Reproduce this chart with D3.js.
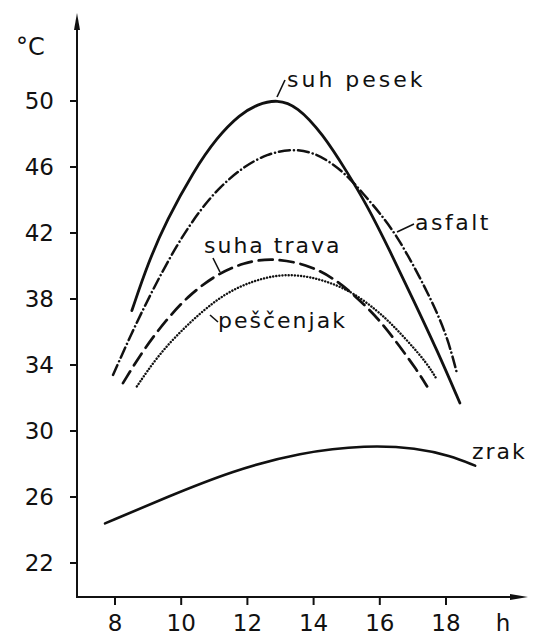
<!DOCTYPE html>
<html><head><meta charset="utf-8">
<script src="https://cdn.jsdelivr.net/npm/d3@7"></script>
<style>body{margin:0;background:#fff}svg{display:block}text{font-family:"DejaVu Sans",sans-serif;fill:#111}</style>
</head><body><svg id="c" width="536" height="637"></svg>
<script>
const yTicks=[22,26,30,34,38,42,46,50];
const xTicks=[8,10,12,14,16,18];
const suhPesekH=[8.51,9.0,9.57,10.36,11.08,11.78,12.3,12.9,13.5,14.28,15.01,15.61,16.31,17.0,17.73,18.42];
const suhPesekT=[37.3,40.2,42.8,45.7,47.8,49.2,49.8,50.1,49.7,48.0,45.7,43.7,40.9,38.0,34.9,31.7];
const asfaltH=[7.94,8.54,9.15,9.87,10.57,11.17,11.87,12.59,13.35,13.98,14.59,15.1,15.49,16.01,16.52,17.0,17.52,18.03,18.33];
const asfaltT=[33.4,36.1,38.6,41.3,43.4,44.8,46.0,46.8,47.1,46.9,46.2,45.3,44.4,43.2,41.8,40.1,38.1,35.8,33.5];
const travaH=[8.24,8.85,9.57,10.27,11.08,11.87,12.74,13.8,14.59,15.31,16.01,16.61,17.12,17.43];
const travaT=[32.9,34.9,36.8,38.3,39.5,40.2,40.5,40.1,39.3,38.1,36.7,35.1,33.7,32.7];
const pescH=[8.66,9.27,9.96,10.66,11.38,12.17,12.98,13.8,14.5,15.19,15.92,16.4,16.91,17.43,17.73];
const pescT=[32.7,34.5,36.0,37.3,38.4,39.1,39.5,39.4,39.0,38.4,37.3,36.4,35.3,34.1,33.1];
const zrakH=[7.7,9.57,11.56,13.59,15.61,17.12,18.12,18.88];
const zrakT=[24.4,26.0,27.6,28.7,29.15,28.97,28.5,27.9];

const svg=d3.select("#c");
const x=d3.scaleLinear().domain([8,18]).range([115,446]);
const y=d3.scaleLinear().domain([22,50]).range([563,101]);
const axX=77, axY=597;
const ink="#111";

// axes
svg.append("line").attr("x1",axX).attr("x2",axX).attr("y1",28).attr("y2",axY).attr("stroke",ink).attr("stroke-width",2);
svg.append("path").attr("d",`M${axX-3},30 L${axX},13 L${axX+3},30 Z`).attr("fill",ink);
svg.append("line").attr("x1",axX-1).attr("x2",512).attr("y1",axY).attr("y2",axY).attr("stroke",ink).attr("stroke-width",2);
svg.append("path").attr("d",`M510,${axY-3} L528,${axY} L510,${axY+3} Z`).attr("fill",ink);

yTicks.forEach(t=>{
  svg.append("line").attr("x1",axX-7).attr("x2",axX).attr("y1",y(t)).attr("y2",y(t)).attr("stroke",ink).attr("stroke-width",2);
  svg.append("text").attr("x",54).attr("y",y(t)).attr("dy","0.36em").attr("text-anchor","end").attr("font-size",23).text(t);
});
xTicks.forEach(t=>{
  svg.append("line").attr("x1",x(t)).attr("x2",x(t)).attr("y1",axY).attr("y2",axY+8).attr("stroke",ink).attr("stroke-width",2);
  svg.append("text").attr("x",x(t)).attr("y",631).attr("text-anchor","middle").attr("font-size",23).text(t);
});
svg.append("text").attr("x",503).attr("y",631).attr("text-anchor","middle").attr("font-size",23).text("h");
svg.append("text").attr("x",16).attr("y",55).attr("font-size",24).text("°C");

const line=d3.line().x(d=>x(d[0])).y(d=>y(d[1])).curve(d3.curveBasis);
function series(H,T,w,dash){
  const p=svg.append("path").datum(d3.zip(H,T)).attr("d",line).attr("fill","none").attr("stroke",ink).attr("stroke-width",w).attr("stroke-linecap","round");
  if(dash) p.attr("stroke-dasharray",dash);
}
series(zrakH,zrakT,2.6,null);
series(pescH,pescT,2.4,"0.1,3");
series(travaH,travaT,2.7,"14,7");
series(asfaltH,asfaltT,2.5,"11,4,0.1,4");
series(suhPesekH,suhPesekT,2.8,null);

function label(txt,tx,ty,lx1,ly1,lx2,ly2,ls){
  svg.append("text").attr("x",tx).attr("y",ty).attr("font-size",22).attr("letter-spacing",ls).text(txt);
  if(lx1) svg.append("line").attr("x1",lx1).attr("y1",ly1).attr("x2",lx2).attr("y2",ly2).attr("stroke",ink).attr("stroke-width",1.6);
}
label("suh pesek",287,87,277,97,285,80,3);
label("asfalt",415,230,397,232,414,224,2.5);
label("suha trava",204,253,213,258,220,272,2);
label("peščenjak",218,328,210,315,218,322,2);
label("zrak",472,459,0,0,0,0,2);
</script></body></html>
